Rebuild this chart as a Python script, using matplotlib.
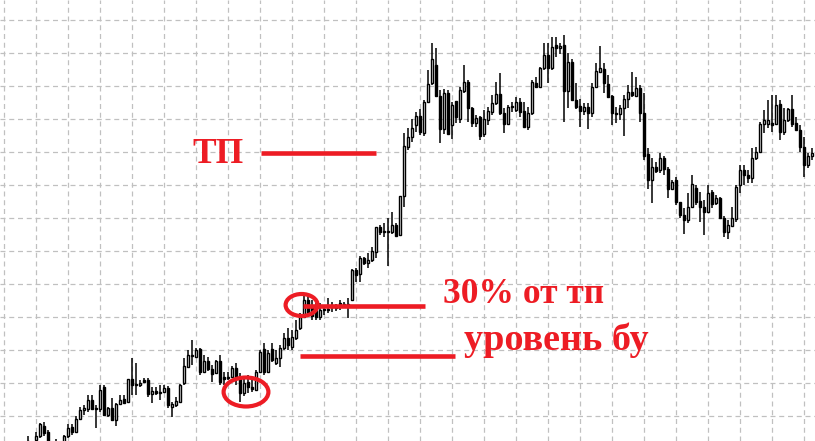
import matplotlib
matplotlib.use("Agg")
import matplotlib.pyplot as plt
from matplotlib.patches import Ellipse
import numpy as np

# OHLC data (price in points), one candle per bar
opens = [-5, -9, 1, 5, 15, 9, -5, -4, -6, -1, 5, 14, 9, 22, 31, 32, 41, 33, 32, 54,
         26, 33, 21, 37, 42, 39, 62, 57, 56, 61, 61, 47, 50, 48, 49, 53, 34, 36, 39, 58,
         74, 85, 84, 92, 69, 80, 72, 68, 80, 64, 63, 64, 73, 64, 48, 59, 54, 51, 69, 92,
         69, 92, 78, 83, 93, 103, 94, 103, 113, 124, 141, 134, 131, 124, 132, 131, 134, 133, 137, 136,
         136, 141, 171, 167, 183, 178, 181, 189, 214, 209, 209, 209, 216, 206, 245, 294, 304, 316, 325, 308,
         339, 358, 376, 345, 312, 348, 316, 340, 322, 350, 359, 333, 318, 324, 307, 321, 329, 338, 347, 328,
         317, 334, 331, 339, 330, 314, 328, 358, 354, 373, 386, 373, 396, 393, 396, 350, 379, 341, 335, 330,
         334, 328, 354, 369, 372, 357, 345, 328, 327, 333, 342, 349, 345, 353, 328, 287, 261, 274, 271, 283,
         272, 252, 261, 239, 226, 221, 234, 253, 240, 234, 229, 249, 238, 243, 223, 209, 215, 222, 256, 271,
         266, 263, 283, 289, 317, 317, 318, 317, 337, 309, 321, 332, 318, 311, 294, 276, 285]
highs = [5, -2, 9, 18, 19, 11, -2, 2, -1, 6, 17, 17, 25, 34, 36, 46, 46, 36, 56, 56,
         34, 43, 38, 46, 46, 62, 83, 78, 61, 63, 63, 54, 54, 56, 56, 55, 39, 44, 57, 83,
         91, 101, 93, 93, 86, 84, 76, 81, 86, 69, 69, 75, 78, 68, 65, 66, 61, 71, 91, 98,
         91, 98, 91, 96, 108, 113, 111, 121, 128, 148, 145, 141, 138, 138, 136, 143, 139, 137, 141, 139,
         143, 172, 173, 185, 184, 188, 194, 214, 216, 218, 223, 229, 218, 245, 308, 313, 322, 329, 332, 341,
         371, 398, 393, 351, 352, 351, 339, 340, 354, 376, 361, 334, 326, 325, 331, 334, 346, 359, 368, 333,
         336, 339, 344, 343, 339, 334, 361, 364, 374, 398, 398, 404, 404, 398, 406, 388, 382, 358, 342, 338,
         338, 358, 378, 395, 378, 366, 346, 334, 336, 346, 356, 369, 364, 356, 348, 293, 283, 279, 288, 285,
         274, 261, 264, 239, 233, 248, 266, 256, 249, 241, 256, 251, 246, 244, 225, 221, 234, 256, 276, 276,
         271, 293, 294, 319, 331, 341, 346, 346, 341, 333, 333, 346, 324, 316, 304, 288, 293]
lows = [-9, -11, 0, 3, 5, -5, -11, -7, -9, -4, 3, 6, 8, 21, 26, 29, 31, 13, 29, 25,
        24, 20, 15, 36, 38, 39, 46, 46, 54, 58, 44, 38, 46, 41, 48, 33, 24, 34, 38, 56,
        73, 76, 83, 66, 68, 70, 59, 67, 56, 56, 61, 63, 56, 39, 45, 48, 49, 50, 68, 66,
        68, 79, 76, 74, 91, 91, 91, 101, 111, 123, 125, 121, 121, 121, 126, 128, 129, 130, 131, 133,
        123, 140, 159, 159, 176, 173, 179, 183, 206, 204, 175, 207, 205, 205, 234, 291, 299, 309, 306, 305,
        338, 356, 344, 298, 307, 307, 302, 318, 318, 348, 319, 314, 314, 301, 304, 316, 326, 336, 326, 308,
        316, 329, 329, 324, 314, 311, 326, 353, 353, 371, 358, 371, 384, 387, 319, 333, 341, 332, 314, 326,
        312, 324, 353, 368, 348, 343, 316, 318, 321, 305, 333, 344, 344, 319, 281, 252, 238, 268, 268, 266,
        243, 251, 236, 223, 207, 218, 233, 236, 219, 206, 228, 233, 236, 223, 204, 202, 214, 219, 248, 256,
        258, 258, 281, 288, 308, 313, 309, 316, 301, 306, 319, 314, 311, 289, 264, 273, 281]
closes = [0, -6, 5, 17, 8, -3, -9, -2, -4, 5, 13, 9, 22, 31, 33, 41, 32, 32, 51, 26,
          33, 21, 37, 41, 38, 62, 56, 56, 58, 59, 47, 50, 48, 49, 53, 36, 37, 40, 56, 75,
          86, 86, 91, 69, 80, 72, 67, 80, 59, 62, 64, 73, 64, 48, 58, 54, 52, 69, 89, 69,
          88, 81, 83, 93, 103, 96, 104, 111, 124, 141, 128, 125, 124, 131, 131, 132, 135, 133, 138, 136,
          137, 171, 166, 183, 178, 181, 190, 214, 209, 209, 210, 216, 205, 245, 295, 304, 313, 325, 309, 339,
          357, 382, 345, 312, 348, 307, 336, 324, 351, 359, 333, 318, 323, 305, 322, 330, 338, 347, 328, 317,
          334, 334, 339, 329, 314, 328, 359, 354, 373, 386, 373, 394, 393, 395, 350, 379, 341, 334, 330, 334,
          328, 354, 370, 373, 358, 344, 328, 327, 333, 342, 349, 346, 353, 328, 285, 261, 274, 270, 283, 272,
          252, 259, 239, 226, 221, 234, 257, 239, 234, 229, 248, 237, 243, 223, 209, 216, 223, 254, 271, 266,
          263, 283, 289, 317, 321, 321, 316, 336, 309, 321, 332, 317, 311, 294, 276, 285, 288]

RED = "#ed1c24"

fig = plt.figure(figsize=(8.15, 4.41), dpi=100)
ax = fig.add_axes([0, 0, 1, 1])
ax.set_facecolor("white")

n = len(opens)
idx = np.arange(n)
o = np.array(opens, float)
h = np.array(highs, float)
l = np.array(lows, float)
c = np.array(closes, float)

# grid
ax.set_xticks(np.arange(-6, 200, 8))
ax.set_yticks(np.arange(25, 441, 33))
ax.grid(True, color="#c0c0c0", linestyle=(0, (4, 3)), linewidth=0.9)
ax.set_axisbelow(True)
ax.tick_params(length=0, labelbottom=False, labelleft=False)
for s in ax.spines.values():
    s.set_visible(False)

# wicks
ax.vlines(idx, l, h, color="black", linewidth=1.1, zorder=2)
# bodies
up = c >= o
body_bottom = np.minimum(o, c)
body_h = np.maximum(np.abs(c - o), 0.6)
ax.bar(idx[up], body_h[up], bottom=body_bottom[up], width=0.72,
       color="white", edgecolor="black", linewidth=1.0, zorder=3)
ax.bar(idx[~up], body_h[~up], bottom=body_bottom[~up], width=0.72,
       color="black", edgecolor="black", linewidth=1.0, zorder=3)

ax.set_xlim(-7, 196.75)
ax.set_ylim(0, 441)

# annotations
font = dict(family="Liberation Serif", weight="bold", color=RED)
ax.text(41.0, 278, "ТП", ha="left", va="baseline", zorder=6, fontsize=25.5, **font)
ax.text(103.75, 138, "30% от тп", ha="left", va="baseline", zorder=6, fontsize=25.5, **font)
ax.text(109, 91, "уровень бу", ha="left", va="baseline", zorder=6, fontsize=27.5, **font)

ax.plot([58.25, 87], [288, 288], color=RED, linewidth=3.3, solid_capstyle="butt", zorder=5)
ax.plot([68.75, 99.25], [135, 135], color=RED, linewidth=3.3, solid_capstyle="butt", zorder=5)
ax.plot([68, 106.75], [85, 85], color=RED, linewidth=3.3, solid_capstyle="butt", zorder=5)

ax.add_patch(Ellipse((68.4, 136), 8.0, 22, fill=False, edgecolor=RED, linewidth=3.0, zorder=5))
ax.add_patch(Ellipse((54.5, 49), 11.2, 29, fill=False, edgecolor=RED, linewidth=3.0, zorder=5))

fig.savefig("out.png", dpi=100)
